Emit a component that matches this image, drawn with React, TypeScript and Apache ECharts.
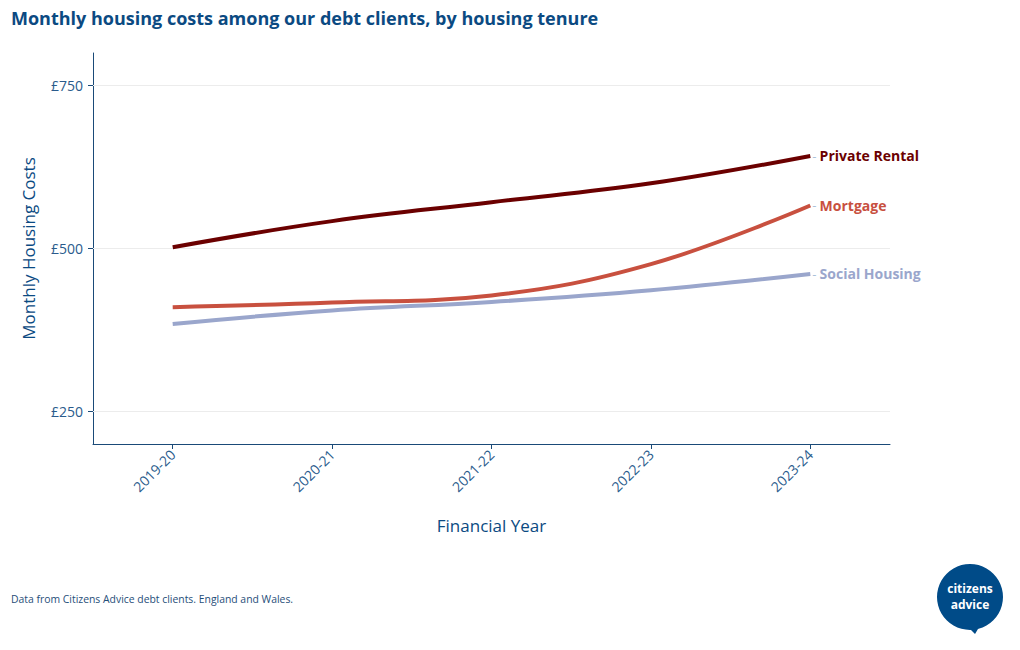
import React, { useEffect, useRef } from "react";
import * as echarts from "echarts";

const years = ["2019-20", "2020-21", "2021-22", "2022-23", "2023-24"];
const privateRental = [502, 542, 571, 600, 642];
const mortgage = [410, 417, 428, 476, 566];
const socialHousing = [384, 405, 418, 436, 461];
const yTicks = [250, 500, 750];

const seriesNames = ["Private Rental", "Mortgage", "Social Housing"];
const seriesColors = ["#6b0000", "#c8503f", "#9aa6cc"];

const FONT = "'Open Sans', 'Noto Sans', sans-serif";
const BLUE = "#0b4a82";

export default function App() {
  const ref = useRef<HTMLDivElement>(null);
  useEffect(() => {
    if (!ref.current) return;
    const chart = echarts.init(ref.current, undefined, { renderer: "svg" });
    const values = [privateRental, mortgage, socialHousing];
    const series: any[] = values.map((v, i) => ({
      name: seriesNames[i],
      type: "line",
      data: v,
      smooth: 0.4,
      symbol: "none",
      lineStyle: { color: seriesColors[i], width: 4 },
      itemStyle: { color: seriesColors[i] },
      endLabel: {
        show: true,
        distance: 2,
        formatter: () => `{d|-} {n|${seriesNames[i]}}`,
        rich: {
          d: { color: "#a9c1d9", fontSize: 13, fontFamily: FONT },
          n: { color: seriesColors[i], fontSize: 14, fontWeight: "bold", fontFamily: FONT },
        },
      },
      z: 3 + (2 - i),
    }));
    series[2].markLine = {
      silent: true,
      symbol: "none",
      label: { show: false },
      lineStyle: { color: "#ececec", width: 1, type: "solid" },
      data: yTicks.map((t) => ({ yAxis: t })),
      z: 1,
    };
    chart.setOption({
      animation: false,
      backgroundColor: "#ffffff",
      textStyle: { fontFamily: FONT },
      grid: { left: 93, right: 130, top: 53, bottom: 206, containLabel: false },
      xAxis: {
        type: "category",
        data: years,
        boundaryGap: true,
        axisLine: { show: true, lineStyle: { color: "#1a4a78", width: 1 } },
        axisTick: { show: true, alignWithLabel: true, length: 5, lineStyle: { color: "#1a4a78" } },
        axisLabel: { rotate: 45, color: "#2a5b8c", fontSize: 14, fontFamily: FONT, margin: 8 },
        name: "Financial Year",
        nameLocation: "middle",
        nameGap: 73,
        nameTextStyle: { color: BLUE, fontSize: 17, fontFamily: FONT },
        splitLine: { show: false },
      },
      yAxis: {
        type: "value",
        min: 200,
        max: 800,
        axisLine: { show: true, lineStyle: { color: "#1a4a78", width: 1 } },
        axisTick: { show: true, length: 5, lineStyle: { color: "#1a4a78" }, customValues: yTicks },
        axisLabel: {
          color: "#2a5b8c",
          fontSize: 14,
          fontFamily: FONT,
          margin: 10,
          customValues: yTicks,
          formatter: (v: number) => `£${v}`,
        },
        splitLine: { show: false },
        name: "Monthly Housing Costs",
        nameLocation: "middle",
        nameGap: 56,
        nameRotate: 90,
        nameTextStyle: { color: BLUE, fontSize: 17, fontFamily: FONT },
      },
      series,
      graphic: [
        {
          type: "text",
          left: 11,
          top: 9,
          style: {
            text: "Monthly housing costs among our debt clients, by housing tenure",
            fill: BLUE,
            font: `bold 18px ${FONT}`,
          },
        },
        {
          type: "text",
          left: 11,
          top: 594,
          style: {
            text: "Data from Citizens Advice debt clients. England and Wales.",
            fill: "#1f4e79",
            font: `10.4px ${FONT}`,
          },
        },
        {
          type: "group",
          left: 937,
          top: 564,
          children: [
            { type: "circle", shape: { cx: 33, cy: 33, r: 33 }, style: { fill: "#004b88" } },
            {
              type: "polygon",
              shape: { points: [[28, 60], [44, 60], [38, 70]] },
              style: { fill: "#004b88" },
            },
            {
              type: "text",
              x: 33,
              y: 24,
              style: {
                text: "citizens",
                fill: "#ffffff",
                font: `bold 12px ${FONT}`,
                align: "center",
                verticalAlign: "middle",
              },
            },
            {
              type: "text",
              x: 33,
              y: 40,
              style: {
                text: "advice",
                fill: "#ffffff",
                font: `bold 12px ${FONT}`,
                align: "center",
                verticalAlign: "middle",
              },
            },
          ],
        },
      ],
    });
    return () => chart.dispose();
  }, []);
  return (
    <div
      ref={ref}
      style={{ position: "fixed", left: 0, top: 0, width: 1020, height: 650, background: "#fff" }}
    />
  );
}
